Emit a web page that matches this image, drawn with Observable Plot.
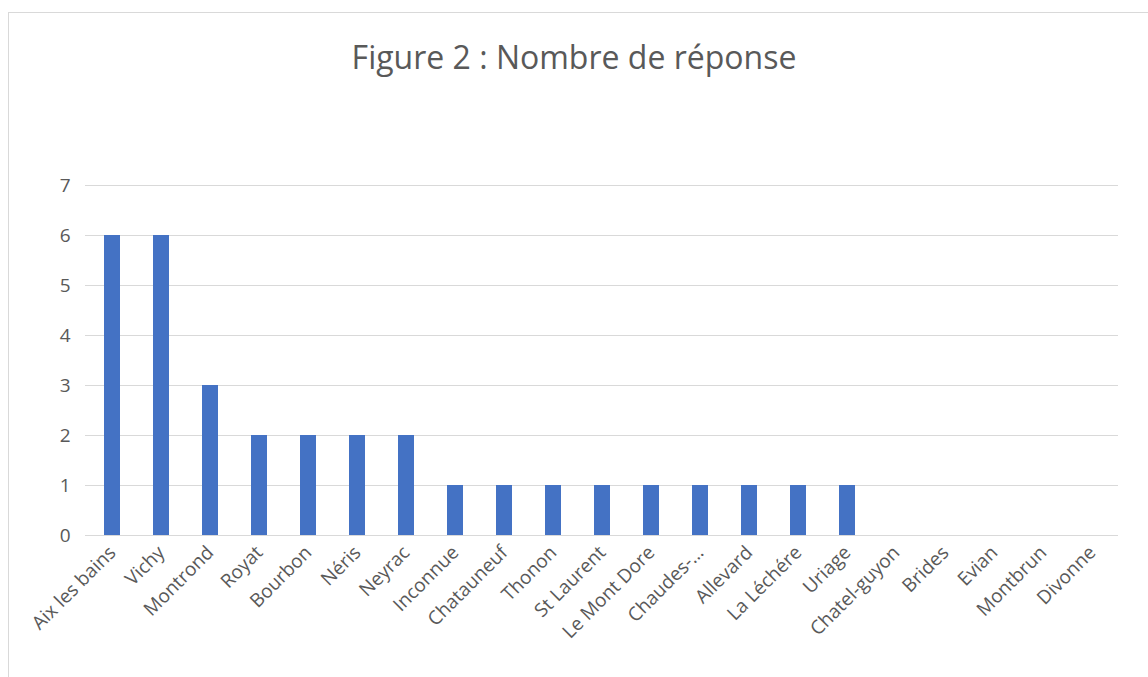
<!DOCTYPE html>
<html>
<head>
<meta charset="utf-8">
<script src="https://cdn.jsdelivr.net/npm/d3@7"></script>
<script src="https://cdn.jsdelivr.net/npm/@observablehq/plot@0.6"></script>
<style>
  html, body { margin: 0; padding: 0; background: #fff; }
  #wrap { position: relative; width: 1148px; height: 677px; overflow: hidden; font-family: "Open Sans", sans-serif; }
  #frame { position: absolute; left: 8px; top: 12px; width: 1200px; height: 800px; border: 1px solid #d9d9d9; box-sizing: border-box; }
  #title { position: absolute; left: 0; top: 35px; width: 1148px; text-align: center; font-size: 32px; line-height: 44px; color: #595959; }
  #chart { position: absolute; left: 0; top: 0; }
</style>
</head>
<body>
<div id="wrap">
  <div id="frame"></div>
  <div id="title">Figure 2 : Nombre de réponse</div>
  <div id="chart"></div>
</div>
<script>
const categories = ["Aix les bains", "Vichy", "Montrond", "Royat", "Bourbon", "Néris", "Neyrac", "Inconnue", "Chatauneuf", "Thonon", "St Laurent", "Le Mont Dore", "Chaudes-…", "Allevard", "La Léchére", "Uriage", "Chatel-guyon", "Brides", "Evian", "Montbrun", "Divonne"];
const values = [6, 6, 3, 2, 2, 2, 2, 1, 1, 1, 1, 1, 1, 1, 1, 1, 0, 0, 0, 0, 0];
const yTicks = [0, 1, 2, 3, 4, 5, 6, 7];

const data = categories.map((c, i) => ({name: c, value: values[i]}));

const chart = Plot.plot({
  width: 1148,
  height: 677,
  marginLeft: 85,
  marginRight: 30,
  marginTop: 185,
  marginBottom: 142,
  style: {background: "transparent", fontFamily: "Open Sans, sans-serif", fontSize: "18px", color: "#595959", overflow: "visible"},
  x: {domain: categories, paddingInner: 0.675, paddingOuter: 0.3375, align: 0.5, label: null},
  y: {domain: [0, 7], ticks: yTicks, label: null},
  marks: [
    Plot.gridY(yTicks, {stroke: "#d9d9d9", strokeOpacity: 1, strokeWidth: 1}),
    Plot.barY(data, {x: "name", y: "value", fill: "#4472c4"}),
    Plot.axisY(yTicks, {tickSize: 0, tickPadding: 15, tickFormat: d3.format("d"), fontSize: 19, fill: "#595959", label: null}),
    Plot.axisX({tickSize: 0, tickRotate: -45, tickPadding: 14, fontSize: 19, fill: "#595959", label: null})
  ]
});
document.getElementById("chart").appendChild(chart);
</script>
</body>
</html>
